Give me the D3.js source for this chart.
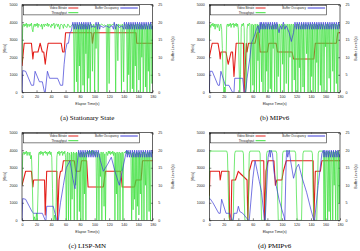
<!DOCTYPE html>
<html>
<head>
<meta charset="utf-8">
<script src="https://cdn.jsdelivr.net/npm/d3@7"></script>
<style>
body { margin: 0; background: #fff; }
svg { display: block; }
</style>
</head>
<body>
<svg id="chart" width="360" height="251"></svg>
<script>
// [time (s), value] points
// bitrate + throughput in Kb/s, buffer in seconds

const bitrateA = [[0,1500],[3,2800],[13,2800],[15,1900],[16,2300],[22,2300],[25,2800],[28,2300],[30,2300],[32,1600],[34,2300],[36,2800],[54,2800],[56,2300],[58,2300],[60,3400],[96,3400],[97,2800],[99,3400],[157,3400],[158,2800],[180,2800]]
const bufferA = [[0,0],[1,6.2],[5,6],[13,2],[16,2],[18,6],[24,3],[28,3],[31,0],[32,0],[35,6],[38,4],[49,4],[53,2],[56,2],[58,8],[60,12],[62,14],[64,14],[66,17],[68,17.5],[70,20],[72,18],[73,20],[75,18],[76,20],[78,18],[79,20],[81,18],[82,20],[84,18],[85,20],[87,18],[88,20],[90,18],[91,20],[93,18],[94,20],[96,18.5],[98,19],[100,18.5],[102,20],[104,18],[105,20],[107,18],[108,19],[112,18.5],[116,19],[120,18.5],[124,19],[126,18],[127,20],[129,18],[130,19.5],[134,18.5],[138,19],[140,18],[141,20],[143,18],[144,20],[146,18],[147,20],[149,18],[150,20],[152,18],[153,20],[155,18],[156,20],[158,18],[159,20],[161,18],[162,20],[164,18],[165,20],[167,18],[168,20],[170,18],[171,20],[173,18],[174,20],[176,18],[177,20],[179,18],[180,19]]
const throughputA = [[0,1700],[1,3800],[2,3900],[3,3750],[4,3900],[5,3800],[6,3950],[7,3700],[8,3900],[9,3850],[10,3750],[11,3900],[12,3800],[13,3950],[14,3600],[15,3450],[16,3800],[17,3900],[18,3750],[19,3900],[20,3800],[21,3950],[22,3700],[23,3900],[24,3850],[26,3750],[27,3900],[28,3600],[29,3850],[30,3900],[31,3750],[32,3900],[34,3800],[35,3950],[36,3750],[37,3900],[38,3850],[40,3700],[41,3900],[42,3800],[44,3950],[45,3650],[46,3850],[48,3900],[49,3750],[50,3900],[52,3600],[53,3850],[54,3900],[56,3800],[57,3650],[58,3900],[60,3750],[62,3700],[63,3900],[64,3850],[66,3700],[68,3800],[70,3900],[71,3850],
  [72,0],[73,3900],[74,3800],[75,600],[76,3900],[77,0],[78,3850],[79,1500],[80,3900],[81,0],[82,3800],[83,3900],[84,400],[85,3850],[86,0],[87,3900],[88,2200],[89,3800],[90,0],[91,3900],[92,800],[93,3850],[94,0],[95,3900],[96,3800],[97,1200],[98,3850],[99,3900],[100,0],[101,3800],[102,2500],[103,3900],[104,3850],[105,0],[106,3900],[107,3800],[108,3850],[110,3900],[112,3800],[114,3850],[116,3750],[117,0],[118,3900],[119,3850],[120,500],[121,3900],[122,3800],[124,3850],[126,3900],[128,3800],[129,0],[130,3900],[131,3850],[132,1800],[133,3900],[134,3800],[136,3850],[137,0],[138,3900],[139,3800],[140,600],[141,3900],[142,3850],[144,3800],[145,0],[146,3900],[147,1000],[148,3850],[149,0],[150,3900],[151,3800],[152,200],[153,3900],[154,0],[155,3850],[156,1500],[157,3900],[158,0],[159,3800],[160,3900],[161,700],[162,3850],[163,0],[164,3900],[165,2000],[166,3800],[167,0],[168,3900],[169,3850],[170,300],[171,3900],[172,0],[173,3800],[174,1200],[175,3900],[176,0],[177,3850],[178,3900],[179,500],[180,3800]]

const bitrateB = [[0,2000],[4,2800],[12,2800],[14,2300],[15,1900],[16,2300],[23,2300],[26,1600],[30,2300],[32,2300],[34,900],[37,2800],[47,2800],[48,0],[51,2800],[52,2300],[54,2800],[63,2800],[66,3400],[68,3400],[70,2300],[80,2300],[82,2800],[92,2800],[94,2300],[114,2300],[116,1900],[144,1900],[146,2800],[175,2800],[177,3400],[180,3400]]
const bufferB = [[0,0],[1,6],[4,6],[12,2],[14,2],[16,6],[22,2],[27,2],[32,0],[34,0],[35,4],[46,4],[48,0],[50,0],[52,4],[56,10],[58,14],[62,16],[65,18],[67,19],[69,17],[70,20],[71,18],[72,20],[74,18],[75,20],[77,18],[78,20],[80,18],[81,20],[83,18],[84,20],[86,18],[87,20],[89,18],[90,20],[92,18],[93,20],[96,17],[98,19],[100,18],[102,20],[104,18],[106,19],[110,17],[113,14.5],[116,17],[118,20],[120,18],[121,20],[123,18],[124,20],[126,18],[127,20],[129,18],[130,20],[132,18],[133,20],[135,18],[136,20],[138,18],[139,20],[141,18],[142,20],[144,18],[145,20],[147,18],[148,20],[150,18],[151,20],[153,18],[154,20],[156,18],[157,20],[159,18],[160,20],[162,18],[163,20],[165,18],[166,20],[168,18],[169,20],[171,18],[172,20],[174,18],[175,20],[177,18],[178,20],[180,18]]
const throughputB = [[0,3000],[1,3850],[2,3700],[3,3900],[4,3800],[5,3950],[6,3750],[7,3900],[8,3600],[9,3900],[10,3850],[11,3700],[12,3900],[13,3800],[14,3500],[15,3850],[16,3900],[17,3600],[18,2500],[19,800],[20,0],[21,300],[22,0],[23,1500],[24,3800],[25,3900],[26,3750],[27,3900],[28,3800],[29,3950],[30,3700],[31,3900],[32,3850],[33,3950],[34,3700],[35,3900],[36,3800],[37,3950],[38,3750],[39,3900],[40,3600],[41,1500],[42,0],[43,1000],[44,3700],[45,3900],[46,3800],[47,3950],[48,3700],[49,1200],[50,0],[51,300],[52,3600],[53,3900],[54,3800],[55,3950],[56,3900],
  [57,0],[58,3800],[59,3900],[60,400],[61,3850],[62,0],[63,3900],[64,3800],[65,0],[66,3900],[67,1800],[68,3850],[69,0],[70,3900],[71,3800],[72,600],[73,3900],[74,0],[75,3850],[76,3900],[77,0],[78,3800],[79,1200],[80,3900],[81,0],[82,3850],[83,3900],[84,200],[85,3800],[86,0],[87,3900],[88,2500],[89,3850],[90,0],[91,3900],[92,3800],[93,0],[94,3900],[95,900],[96,3850],[97,3900],[98,0],[99,3800],[100,3900],[101,1600],[102,3850],[103,0],[104,3900],[105,3800],[106,500],[107,3900],[108,3850],[109,0],[110,3900],[111,2000],[112,3800],[113,3900],[114,0],[115,3850],[116,3900],[117,700],[118,3800],[119,0],[120,3900],[121,3850],[122,0],[123,3900],[124,1400],[125,3800],[126,0],[127,3900],[128,3850],[129,300],[130,3900],[131,0],[132,3800],[133,3900],[134,2200],[135,3850],[136,0],[137,3900],[138,3800],[139,0],[140,3900],[141,900],[142,3850],[143,0],[144,3900],[145,3800],[146,0],[147,3900],[148,1700],[149,3850],[150,0],[151,3900],[152,3800],[153,400],[154,3900],[155,0],[156,3850],[157,3900],[158,0],[159,3800],[160,2600],[161,3900],[162,0],[163,3850],[164,3900],[165,800],[166,3800],[167,0],[168,3900],[169,3850],[170,1200],[171,3900],[172,0],[173,3800],[174,3900],[175,500],[176,3850],[177,0],[178,3900],[179,3800],[180,3900]]

const bitrateC = [[0,2000],[5,2800],[13,2800],[15,1900],[16,2300],[31,2300],[32,300],[34,2800],[48,2800],[49,0],[51,2300],[53,2800],[55,2800],[57,3400],[72,3400],[74,2800],[80,2800],[82,3400],[89,3400],[91,1900],[112,1900],[115,2800],[136,2800],[138,1900],[155,1900],[157,2300],[164,2300],[166,3400],[180,3400]]
const bufferC = [[0,0],[1,6.2],[5,6],[14,2.4],[16,2],[28,2],[32,0],[33,0],[34,4],[43,4],[48,0],[50,0],[53,5],[57,10],[61,15],[66,17],[70,12],[73,9],[75,14],[77,18],[78,20],[80,18],[81,20],[83,18],[84,20],[86,18],[87,20],[89,18],[90,20],[92,18],[93,20],[95,18],[96,20],[98,18],[99,20],[101,18],[102,20],[104,18],[105,20],[108,17],[112,14],[118,16],[123,18],[128,14],[134,10],[138,14],[142,18],[144,20],[145,18],[146,20],[148,18],[149,20],[151,18],[152,20],[154,18],[155,20],[157,18],[158,20],[160,18],[161,20],[163,18],[164,20],[166,18],[167,20],[169,18],[170,20],[172,18],[173,20],[175,18],[176,20],[178,18],[179,20],[180,19]]
const throughputC = [[0,2000],[1,3800],[2,3900],[3,3750],[4,3900],[5,3800],[6,3950],[7,3700],[8,3900],[9,3850],[10,3700],[11,3900],[12,3500],[13,3700],[14,2500],[15,600],[16,0],[17,200],[18,0],[19,0],[20,400],[21,0],[22,1500],[23,3800],[24,3900],[25,3750],[26,3950],[27,3800],[28,3900],[29,3700],[30,3900],[31,3850],[32,3950],[33,3800],[34,3900],[35,3700],[36,3900],[37,3800],[38,3950],[39,3750],[40,3900],[41,3600],[42,1800],[43,0],[44,0],[45,300],[46,0],[47,1000],[48,3600],[49,3900],[50,3800],[51,3950],[52,3700],[53,3900],[54,3850],[55,3950],[56,3700],[57,3900],[58,3800],[59,3950],[60,3600],
  [61,0],[62,3800],[63,3900],[64,0],[65,3850],[66,3700],[67,0],[68,3900],[69,1200],[70,3800],[71,3900],[72,0],[73,3850],[74,2000],[75,3900],[76,0],[77,3800],[78,3900],[79,500],[80,3850],[81,0],[82,3900],[83,3800],[84,0],[85,3900],[86,1500],[87,3850],[88,0],[89,3900],[90,3800],[91,3950],[92,3700],[93,4000],[94,3800],[95,3950],[96,3700],[97,4000],[98,3800],[99,3950],[100,3700],[101,3900],[102,3800],[103,0],[104,3900],[105,3850],[106,0],[107,3800],[108,2500],[109,3900],[110,0],[111,3850],[112,3900],[113,800],[114,3800],[115,0],[116,3900],[117,3850],[118,3700],[119,3950],[120,3800],[121,3950],[122,3750],[123,3900],[124,3800],[125,3950],[126,3700],[127,3900],[128,0],[129,3850],[130,1500],[131,3900],[132,0],[133,3800],[134,3900],[135,0],[136,3850],[137,2800],[138,3900],[139,0],[140,3800],[141,3900],[142,3850],[143,3950],[144,3800],[145,3950],[146,3750],[147,3900],[148,3800],[149,3900],[150,3700],[151,0],[152,3850],[153,600],[154,3900],[155,1200],[156,3800],[157,0],[158,3900],[159,800],[160,3850],[161,300],[162,3900],[163,1500],[164,3800],[165,0],[166,3900],[167,3850],[168,0],[169,3900],[170,2000],[171,3800],[172,0],[173,3900],[174,3850],[175,500],[176,3900],[177,0],[178,3800],[179,3900],[180,3850]]

const bitrateD = [[0,1400],[1,2800],[14,2800],[15,2300],[17,2800],[27,2800],[28,0],[30,0],[31,2300],[36,2300],[40,2800],[42,2700],[52,2300],[53,0],[55,2800],[59,3400],[75,3400],[76,0],[78,2800],[81,3400],[89,3400],[91,2000],[93,2300],[100,2300],[102,2800],[106,3400],[143,3400],[144,0],[146,2800],[153,2800],[155,3400],[180,3400]]
const bufferD = [[0,6],[1,6.2],[5,5],[13,2],[15,2],[17,6],[23,2],[28,2],[31,0],[33,0],[34,2],[38,2],[40,4],[42,2.5],[46,2],[54,0],[55,0],[60,12],[63,17],[66,14],[69,11],[72,8],[76,0],[77,0],[81,18],[83,20],[84,18],[85,20],[87,19],[89,14],[92,10],[96,6],[100,3],[103,1],[104,0],[106,18],[107,20],[108,18],[110,20],[112,17],[116,12],[120,15],[123,16],[128,12],[134,8],[140,3],[144,0],[145,0],[150,10],[155,19],[157,20],[158,18],[159,20],[161,18],[162,20],[164,18],[165,20],[167,18],[168,20],[170,18],[171,20],[173,18],[174,20],[176,18],[177,20],[179,18],[180,19]]
const throughputD = [[0,1200],[0.5,3800],[1,3950],[24,3950],[25,3800],[26,2000],[27,200],[28,0],[32,0],[33,200],[34,2500],[35,3800],[36,3950],[46,3950],[47,3800],[48,1500],[49,0],[53,0],[54,1500],[55,3800],[56,3950],[69,3950],[70,3800],[71,1500],[72,0],[77,0],[78,1800],[79,3800],[80,3950],[92,3950],[93,3800],[94,1500],[95,0],[99,0],[100,2000],[101,3800],[102,3950],[118,3950],[119,3800],[120,1500],[121,0],[127,0],[128,2000],[129,3800],[130,3950],[141,3950],[142,3800],[143,1500],[144,0],[148,0],[149,2000],[150,3800],[151,3950],[157,3950],
  [158,0],[159,3900],[160,0],[161,3950],[162,3900],[163,0],[164,3950],[165,500],[166,3900],[167,0],[168,3950],[169,3900],[170,0],[171,3950],[172,2000],[173,3900],[174,0],[175,3950],[176,3900],[177,0],[178,3950],[179,1000],[180,3900]]

const timeTicks = [0,20,40,60,80,100,120,140,160,180]
const rateTicks = [0,1000,2000,3000,4000,5000]
const bufferTicks = [0,5,10,15,20,25]

const panels = [
  {id: "a", left: 22,    top: 4.7,   titleR: 20.5, caption: "(a) Stationary State", bitrate: bitrateA, buffer: bufferA, throughput: throughputA},
  {id: "b", left: 209.3, top: 4.7,   titleR: 15.5, caption: "(b) MIPv6",            bitrate: bitrateB, buffer: bufferB, throughput: throughputB},
  {id: "c", left: 22,    top: 132.7, titleR: 20.5, caption: "(c) LISP-MN",          bitrate: bitrateC, buffer: bufferC, throughput: throughputC},
  {id: "d", left: 209.3, top: 132.7, titleR: 15.5, caption: "(d) PMIPv6",           bitrate: bitrateD, buffer: bufferD, throughput: throughputD}
]

const plotW = 130.7
const plotH = 87.6
const red = "#e3201b"
const green = "#3ee03e"
const blue = "#3b3bd6"
const sans = "'Liberation Sans', Arial, sans-serif"

const svg = d3.select("#chart")

const x = d3.scaleLinear().domain([0, 180]).range([0, plotW])
const yRate = d3.scaleLinear().domain([0, 5000]).range([plotH, 0])
const yBuf = d3.scaleLinear().domain([0, 25]).range([plotH, 0])

const rateLine = d3.line().x(d => x(d[0])).y(d => yRate(d[1]))
const bufLine = d3.line().x(d => x(d[0])).y(d => yBuf(d[1]))

panels.forEach(p => drawPanel(p))

function drawPanel(p){
    const g = svg.append("g").attr("transform", `translate(${p.left},${p.top})`)

    g.append("clipPath").attr("id", "clip-" + p.id)
    .append("rect").attr("width", plotW).attr("height", plotH)

    // axes (ticks point inward)
    const left = g.append("g")
    .call(d3.axisLeft(yRate).tickValues(rateTicks).tickFormat(d3.format("d")).tickSize(-2).tickPadding(4.5))
    const right = g.append("g").attr("transform", `translate(${plotW},0)`)
    .call(d3.axisRight(yBuf).tickValues(bufferTicks).tickFormat(d3.format("d")).tickSize(-2).tickPadding(5.5))
    const bottom = g.append("g").attr("transform", `translate(0,${plotH})`)
    .call(d3.axisBottom(x).tickValues(timeTicks).tickFormat(d3.format("d")).tickSize(-2).tickPadding(3))
    const top = g.append("g")
    .call(d3.axisTop(x).tickValues(timeTicks).tickSize(-2).tickFormat(""))

    ;[left, right, bottom, top].forEach(a => {
        a.select(".domain").remove()
        a.selectAll("line").attr("stroke", "#000").attr("stroke-width", 0.5)
        a.selectAll("text").attr("font-family", sans).attr("font-size", 3.6).attr("fill", "#222")
    })

    const plot = g.append("g").attr("clip-path", `url(#clip-${p.id})`)

    plot.append("path").datum(p.bitrate)
    .attr("d", rateLine).attr("fill", "none")
    .attr("stroke", red).attr("stroke-width", 1.1).attr("stroke-linejoin", "round")

    plot.append("path").datum(p.throughput)
    .attr("d", rateLine).attr("fill", "none")
    .attr("stroke", green).attr("stroke-width", 0.85).attr("stroke-opacity", 0.85)
    .attr("stroke-linejoin", "round")

    plot.append("path").datum(p.buffer)
    .attr("d", bufLine).attr("fill", "none")
    .attr("stroke", blue).attr("stroke-width", 0.7).attr("stroke-linejoin", "round")

    // frame
    g.append("rect").attr("width", plotW).attr("height", plotH)
    .attr("fill", "none").attr("stroke", "#000").attr("stroke-width", 0.6)

    // legend
    const lg = g.append("g").attr("transform", "translate(1.3,0.8)")
    lg.append("rect").attr("width", 116).attr("height", 9.4)
    .attr("fill", "#fff").attr("stroke", "#000").attr("stroke-width", 0.5)
    const items = [
        {label: "Video Bitrate", color: red, tx: 43.5, x0: 45, x1: 55, y: 2.5},
        {label: "Throughput", color: green, tx: 43.5, x0: 45, x1: 55, y: 7.2},
        {label: "Buffer Occupancy", color: blue, tx: 95.5, x0: 97, x1: 114.5, y: 2.5}
    ]
    items.forEach(it => {
        lg.append("text").attr("x", it.tx).attr("y", it.y).attr("dy", "0.35em")
        .attr("text-anchor", "end").attr("font-family", sans).attr("font-size", 3)
        .attr("fill", "#222").text(it.label)
        lg.append("line").attr("x1", it.x0).attr("x2", it.x1).attr("y1", it.y).attr("y2", it.y)
        .attr("stroke", it.color).attr("stroke-width", 1)
    })

    // axis titles
    g.append("text").attr("transform", `translate(${-17},${plotH / 2}) rotate(-90)`)
    .attr("text-anchor", "middle").attr("dy", "0.35em")
    .attr("font-family", sans).attr("font-size", 3.6).attr("fill", "#222").text("[Kb/s]")

    g.append("text").attr("transform", `translate(${plotW + p.titleR},${plotH / 2}) rotate(-90)`)
    .attr("text-anchor", "middle").attr("dy", "0.35em")
    .attr("font-family", sans).attr("font-size", 3.6).attr("fill", "#222").text("Buffer Level (s)")

    g.append("text").attr("x", plotW / 2).attr("y", plotH + 11.3)
    .attr("text-anchor", "middle").attr("dy", "0.35em")
    .attr("font-family", sans).attr("font-size", 3.6).attr("fill", "#222").text("Elapse Time(s)")

    // caption
    g.append("text").attr("x", plotW / 2).attr("y", plotH + 25)
    .attr("text-anchor", "middle").attr("dy", "0.35em")
    .attr("font-family", "'Liberation Serif', 'Times New Roman', serif").attr("font-size", 7)
    .attr("fill", "#000").text(p.caption)
}
</script>
</body>
</html>
